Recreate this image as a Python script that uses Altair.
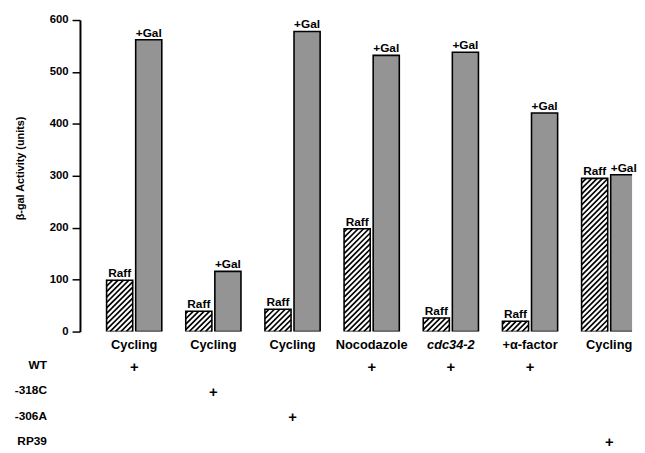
import altair as alt
import pandas as pd

# ---------------- data ----------------
conditions = ["Cycling", "Cycling", "Cycling", "Nocodazole", "cdc34-2", "+α-factor", "Cycling"]
raff_values = [99, 39, 43, 198, 26, 20, 295]
gal_values = [562, 116, 578, 532, 538, 421, 302]
strains = ["WT", "-318C", "-306A", "RP39"]
group_strain = ["WT", "-318C", "-306A", "WT", "WT", "WT", "RP39"]
series_names = ["Raff", "+Gal"]

# ---------------- layout constants ----------------
FONT = "Liberation Sans"
PX_X = 80.3             # pixels per group step
PLOT_W = 560
PLOT_H = 316
Y_MAX = 600
PX_Y = PLOT_H / Y_MAX
X_LO = -55 / PX_X
X_HI = X_LO + PLOT_W / PX_X
BAR_W_PX = 26.5
GAP_PX = 1.5
HATCH_PERIOD = 5.5

# ---------------- tables built from the arrays ----------------
bar_rows = []
for i, (cond, r, g) in enumerate(zip(conditions, raff_values, gal_values)):
    for name, val in zip(series_names, (r, g)):
        if name == "Raff":
            x0 = i - (GAP_PX + BAR_W_PX) / PX_X
            x1 = i - GAP_PX / PX_X
        else:
            x0 = i + GAP_PX / PX_X
            x1 = i + (GAP_PX + BAR_W_PX) / PX_X
        bar_rows.append(dict(idx=i, cond=cond, series=name, value=val,
                             x0=x0, x1=x1, xm=(x0 + x1) / 2))
bars = pd.DataFrame(bar_rows)

# diagonal hatching segments for the Raff bars, clipped to each bar
hatch_rows = []
for _, b in bars[bars.series == "Raff"].iterrows():
    w = BAR_W_PX
    h = b.value * PX_Y
    k = -w + 1.0
    while k < h:
        us = max(0.0, -k)
        ue = min(w, h - k)
        if ue > us:
            hatch_rows.append(dict(hx=b.x0 + us / PX_X, hy=(us + k) / PX_Y,
                                   hx2=b.x0 + ue / PX_X, hy2=(ue + k) / PX_Y))
        k += HATCH_PERIOD
hatch = pd.DataFrame(hatch_rows)

cats = pd.DataFrame(dict(idx=list(range(len(conditions))), cond=conditions,
                         zero=[0] * len(conditions)))
table = pd.DataFrame(dict(idx=list(range(len(conditions))), strain=group_strain,
                          mark=["+"] * len(conditions)))

xscale = alt.Scale(domain=[X_LO, X_HI], nice=False, zero=False)
yscale = alt.Scale(domain=[0, Y_MAX], nice=False)

# ---------------- top: bars ----------------
base = alt.Chart(bars)

raff_fill = base.transform_filter(alt.datum.series == "Raff").mark_rect(
    fill="white", clip=True
).encode(
    x=alt.X("x0:Q", scale=xscale, axis=None),
    x2="x1:Q",
    y=alt.Y("value:Q", scale=yscale,
            axis=alt.Axis(title="β-gal Activity (units)", values=[0, 100, 200, 300, 400, 500, 600],
                          grid=False, domainWidth=2, domainColor="black", tickColor="black",
                          tickWidth=1.5, tickSize=8, labelPadding=4,
                          labelFont=FONT, labelFontSize=11.5, labelFontWeight="bold",
                          labelColor="black", titleFont=FONT, titleFontSize=11,
                          titleFontWeight="bold", titleColor="black", titlePadding=24,
                          titleY=150)),
    y2=alt.datum(0),
)

hatch_layer = alt.Chart(hatch).mark_rule(
    color="black", strokeWidth=1.7, clip=True
).encode(
    x=alt.X("hx:Q", scale=xscale, axis=None),
    x2="hx2:Q",
    y=alt.Y("hy:Q", scale=yscale),
    y2="hy2:Q",
)

gal_fill = base.transform_filter(alt.datum.series == "+Gal").mark_rect(
    fill="#949494", clip=True
).encode(
    x=alt.X("x0:Q", scale=xscale, axis=None),
    x2="x1:Q",
    y=alt.Y("value:Q", scale=yscale),
    y2=alt.datum(0),
)

outline = base.mark_rect(
    fillOpacity=0, stroke="black", strokeWidth=1.6, clip=True
).encode(
    x=alt.X("x0:Q", scale=xscale, axis=None),
    x2="x1:Q",
    y=alt.Y("value:Q", scale=yscale),
    y2=alt.datum(0),
)

bar_labels = base.mark_text(
    font=FONT, fontSize=12, fontWeight="bold", baseline="alphabetic", dy=-3, color="black"
).encode(
    x=alt.X("xm:Q", scale=xscale, axis=None),
    y=alt.Y("value:Q", scale=yscale),
    text="series:N",
)

cat_normal = alt.Chart(cats).transform_filter(alt.datum.cond != "cdc34-2").mark_text(
    font=FONT, fontSize=13, fontWeight="bold", baseline="top", dy=8, color="black"
).encode(
    x=alt.X("idx:Q", scale=xscale, axis=None),
    y=alt.Y("zero:Q", scale=yscale),
    text="cond:N",
)
cat_italic = alt.Chart(cats).transform_filter(alt.datum.cond == "cdc34-2").mark_text(
    font=FONT, fontSize=13, fontWeight="bold", fontStyle="italic", baseline="top", dy=8,
    color="black"
).encode(
    x=alt.X("idx:Q", scale=xscale, axis=None),
    y=alt.Y("zero:Q", scale=yscale),
    text="cond:N",
)

top = alt.layer(raff_fill, hatch_layer, gal_fill, outline, bar_labels, cat_normal, cat_italic
                ).properties(width=PLOT_W, height=PLOT_H)

# ---------------- bottom: strain table ----------------
bottom = alt.Chart(table).mark_text(
    font=FONT, fontSize=15, fontWeight="bold", baseline="middle", dy=2, color="black"
).encode(
    x=alt.X("idx:Q", scale=xscale, axis=None),
    y=alt.Y("strain:N", sort=strains,
            scale=alt.Scale(domain=strains, paddingInner=0, paddingOuter=0),
            axis=alt.Axis(title=None, domain=False, ticks=False, labelPadding=34,
                          labelFont=FONT, labelFontSize=12, labelFontWeight="bold",
                          labelColor="black")),
    text="mark:N",
).properties(width=PLOT_W, height=102)

chart = alt.vconcat(top, bottom, spacing=0).properties(
    padding={"left": 6, "top": 3, "right": 0, "bottom": 0},
    background="white",
).configure_view(strokeWidth=0, stroke=None)

chart.save("out.html", embed_options={"renderer": "svg", "actions": False})
